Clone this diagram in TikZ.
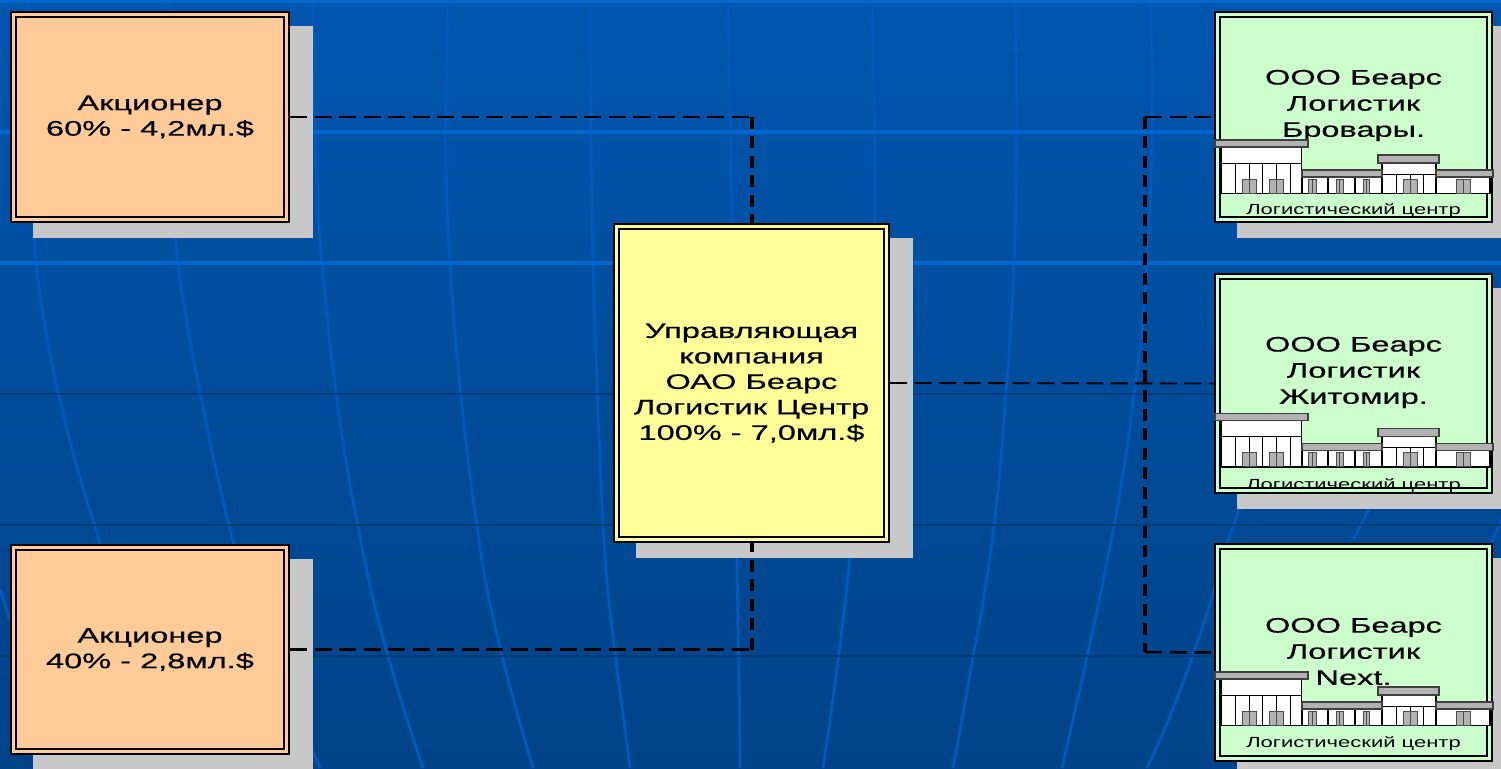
\documentclass[tikz,border=0pt]{standalone}
\usepackage{fontspec}
\setmainfont[FakeStretch=1.55,FakeBold=0.5]{Liberation Sans}
\newfontfamily\captionfont[FakeStretch=1.5]{Liberation Sans}
\usepackage{tikz}
\usetikzlibrary{shadows,calc}
\definecolor{orangebox}{HTML}{FFCC99}
\definecolor{yellowbox}{HTML}{FFFF99}
\definecolor{greenbox}{HTML}{CCFFCC}
\definecolor{shadowgray}{HTML}{C8C8C8}
\definecolor{roofgray}{HTML}{B2B2B2}
\definecolor{bgtop}{HTML}{0056AE}
\definecolor{bgbottom}{HTML}{004388}
\definecolor{gridlight}{HTML}{0066D0}
\definecolor{griddark}{HTML}{003C78}
\definecolor{curveblue}{HTML}{0059BC}
\tikzset{
  panel/.style={draw=black, line width=1.5pt, double distance=2.2pt, outer sep=2.6pt, align=center,
    inner sep=0pt, font=\fontsize{15.75}{19.1}\selectfont,
    general shadow={fill=shadowgray, draw=shadowgray, line width=5.2pt, shadow xshift=17.2pt, shadow yshift=-11pt}},
  owner/.style={panel, fill=orangebox, double=orangebox, minimum width=204.75pt},
  company/.style={panel, fill=yellowbox, double=yellowbox, minimum width=202.5pt, minimum height=234.75pt},
  branch/.style={panel, fill=greenbox, double=greenbox, minimum width=204pt},
  branchname/.style={align=center, font=\fontsize{15.75}{19.6}\selectfont},
  caption/.style={font=\captionfont\fontsize{11}{13}\selectfont},
  linkh/.style={draw=black, line width=1.9pt, dash pattern=on 12.8pt off 5.6pt},
  linkv/.style={draw=black, line width=3pt, dash pattern=on 9pt off 5.6pt},
  linkthin/.style={draw=black, line width=1.4pt, dash pattern=on 12.8pt off 5.6pt},
  gridl/.style={draw=gridlight, line width=2.4pt},
  gridd/.style={draw=griddark, line width=2.2pt},
  curve/.style={draw=curveblue, line width=2.1pt},
  roof/.style={draw=black!75, fill=roofgray, line width=1pt},
  wall/.style={draw=black, fill=white, line width=1.1pt},
  door/.style={draw=black!70, fill=roofgray, line width=.7pt},
  depot/.pic={
    \draw[wall] (6.7,7) rectangle (86.7,53.3);
    \draw[wall] (87,37) rectangle (167,53.3);
    \draw[wall] (221,37) rectangle (275,53.3);
    \draw[wall] (167,23) rectangle (221,53.3);
    \draw[black, line width=.7pt] (6.7,23) -- (86.7,23);
    \draw[black, line width=.7pt] (167,34) -- (221,34);
    \foreach \x in {20,34,47,61,75,181,195,208}
      \draw[black, line width=.7pt] (\x,\ifnum\x>100 34\else 23\fi) -- (\x,53.3);
    \foreach \x in {113,140}
      \draw[black, line width=1.2pt] (\x,37) -- (\x,53.3);
    \foreach \x/\w in {27/14,54/14,93/8,121/7,148/6,188/14,241/14} {
      \draw[door] (\x,39) rectangle ++(\w,14.3);
      \draw[door] ({\x+\w/2},39) -- ++(0,14.3);
    }
    \draw[roof] (0,0) rectangle (93,7);
    \draw[roof] (87,30) rectangle (167,37);
    \draw[roof] (163,15) rectangle (224,23);
    \draw[roof] (221,30) rectangle (278,37);
  }
}
\begin{document}
\begin{tikzpicture}[x=0.75pt, y=-0.75pt]
  \useasboundingbox (0,0) rectangle (1501,768);
  \shade[top color=bgtop, bottom color=bgbottom] (0,0) rectangle (1501,768);

  % slide background
  \draw[curve] (28,0) .. controls (28,130) and (36,263) .. (36,263) .. controls (45,350) and (75,470) .. (95,525) .. controls (120,620) and (150,710) .. (175,768);
  \draw[curve] (170,0) .. controls (170,130) and (172,220) .. (178,263) .. controls (184,320) and (215,470) .. (229,525) .. controls (250,620) and (290,700) .. (320,768);
  \draw[curve] (313,0) .. controls (315,130) and (316,210) .. (322,263) .. controls (328,340) and (345,470) .. (358,525) .. controls (372,610) and (400,700) .. (423,768);
  \draw[curve] (448,0) .. controls (444,130) and (446,210) .. (450,263) .. controls (454,340) and (468,470) .. (477,525) .. controls (487,610) and (513,700) .. (533,768);
  \draw[curve] (590,0) .. controls (590,130) and (592,210) .. (593,263) .. controls (595,340) and (600,470) .. (603,525) .. controls (607,610) and (622,700) .. (630,768);
  \draw[curve] (728,0) .. controls (731,130) and (735,400) .. (737,558) .. controls (738,640) and (740,700) .. (740,768);
  \draw[curve] (872,0) .. controls (876,130) and (876,300) .. (868,400) .. controls (864,460) and (856,520) .. (850,556) .. controls (845,610) and (832,710) .. (823,768);
  \draw[curve] (1015,0) .. controls (1019,130) and (1016,300) .. (1005,400) .. controls (1000,500) and (985,600) .. (973,656) .. controls (966,700) and (958,740) .. (953,768);
  \draw[curve] (1150,0) .. controls (1156,100) and (1150,300) .. (1133,400) .. controls (1125,480) and (1100,600) .. (1087,656) .. controls (1078,700) and (1068,740) .. (1062,768);
  \draw[curve] (1285,300) .. controls (1275,420) and (1250,480) .. (1228,540) .. controls (1210,610) and (1180,700) .. (1147,768);
  \draw[curve] (1425,300) .. controls (1410,420) and (1385,480) .. (1353,540);
  \draw[curve] (1520,480) .. controls (1510,500) and (1500,525) .. (1490,545);
  \draw[curve] (0,590) .. controls (4,600) and (8,615) .. (12,625);
  \foreach \y in {1,132,263}
    \draw[gridl] (0,\y) -- (1501,\y);
  \foreach \y in {394,525,656}
    \draw[gridd] (0,\y) -- (1501,\y);

  \node[owner, minimum height=153.75pt] (ownera) at (150,117) {Акционер\\60\% - 4,2мл.\$};
  \node[owner, minimum height=153pt] (ownerb) at (150,649.5) {Акционер\\40\% - 2,8мл.\$};
  \node[company] (center) at (751.5,383) {Управляющая\\компания\\ОАО Беарс\\Логистик Центр\\100\% - 7,0мл.\$};
  \node[branch, minimum height=153.75pt] (brovary) at (1353.5,117) {};
  \node[branch, minimum height=160.5pt] (zhitomir) at (1353.5,383.5) {};
  \node[branch, minimum height=159pt] (next) at (1353.5,652.5) {};

  \node[branchname] (brovaryname) at (1353.5,105.5) {ООО Беарс\\Логистик\\Бровары.};
  \node[branchname] (zhitomirname) at (1353.5,372.5) {ООО Беарс\\Логистик\\Житомир.};
  \node[branchname] (nextname) at (1353.5,651.5) {ООО Беарс\\Логистик\\Next.};

  \pic at (1215,140) {depot};
  \pic at (1215,413.5) {depot};
  \pic at (1215,672) {depot};
  \node[caption] (brovarycap) at (1353.5,211) {Логистический центр};
  \node[caption] (zhitomircap) at (1353.5,486) {Логистический центр};
  \node[caption] (nextcap) at (1353.5,744) {Логистический центр};

  \coordinate (busa) at (1145,117);
  \coordinate (busb) at (1145,652);
  \coordinate (joina) at (center.north |- ownera.east);
  \coordinate (joinb) at (center.south |- ownerb.east);

  \draw[linkh] (ownera.east) -- (joina);
  \draw[linkv] (joina) -- (center.north);
  \draw[linkh] (ownerb.east) -- (joinb);
  \draw[linkv] (joinb) -- (center.south);
  \draw[linkthin] (center.east) -- (zhitomir.west);
  \draw[linkh] (busa) -- (brovary.west);
  \draw[linkv] (busa) -- (busb);
  \draw[linkh] (busb) -- (next.west);
\end{tikzpicture}
\end{document}
